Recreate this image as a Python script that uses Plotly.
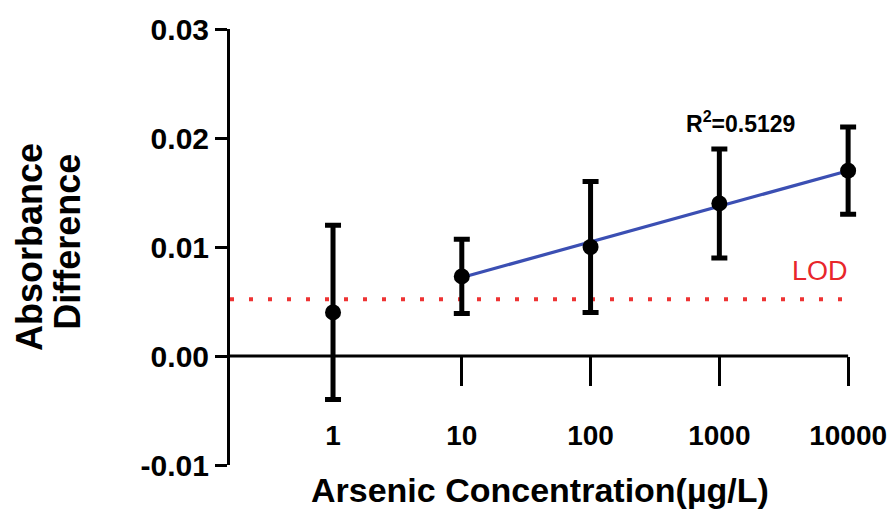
import math
import plotly.graph_objects as go

# ---- data ----
concentration = [1, 10, 100, 1000, 10000]
tick_labels = ["1", "10", "100", "1000", "10000"]
absorbance = [0.0040, 0.0073, 0.0100, 0.0140, 0.0170]
sd = [0.0080, 0.0034, 0.0060, 0.0050, 0.0040]
fit_x = [10, 10000]
fit_y = [0.0072, 0.0170]
lod_value = 0.0052
y_ticks = [-0.01, 0.0, 0.01, 0.02, 0.03]
y_tick_labels = ["-0.01", "0.00", "0.01", "0.02", "0.03"]
r2_text = "R<sup>2</sup>=0.5129"

FONT = "Liberation Sans, Arial, sans-serif"

# x range (log10 units); a little room past the last point so its error bar is not clipped
x_range = [-0.8, 4.1]
axis_end = (math.log10(max(concentration)) - x_range[0]) / (x_range[1] - x_range[0])

fig = go.Figure()

# regression line
fig.add_trace(go.Scatter(
    x=fit_x, y=fit_y, mode="lines",
    line=dict(color="#3b4fb3", width=3.2),
    showlegend=False, hoverinfo="skip",
))

# mean +/- SD
fig.add_trace(go.Scatter(
    x=concentration, y=absorbance, mode="markers",
    marker=dict(color="black", size=16),
    error_y=dict(type="data", array=sd, visible=True,
                 color="black", thickness=5, width=8),
    cliponaxis=False, showlegend=False,
))

# x-axis line drawn at y = 0 up to the last category
fig.add_shape(type="line", xref="x domain", x0=0, x1=axis_end,
              yref="y", y0=0, y1=0,
              line=dict(color="black", width=3), layer="above")

# LOD line
fig.add_shape(type="line", xref="x domain", x0=0, x1=axis_end,
              yref="y", y0=lod_value, y1=lod_value,
              line=dict(color="#ee3333", width=4, dash="4px,15px"),
              layer="below")

fig.add_annotation(text="LOD", xref="paper", yref="paper",
                   x=(820 - 230) / 631, y=0.445, xanchor="center", yanchor="middle",
                   showarrow=False,
                   font=dict(family=FONT, size=27, color="#e8262b"))

fig.add_annotation(text=r2_text, xref="paper", yref="paper",
                   x=(740 - 230) / 631, y=0.787, xanchor="center", yanchor="middle",
                   showarrow=False,
                   font=dict(family=FONT, size=23, color="black", weight="bold"))

# axis titles
fig.add_annotation(text="Absorbance", xref="paper", yref="paper",
                   x=(29 - 230) / 631, y=0.5, xanchor="center", yanchor="middle",
                   textangle=-90, showarrow=False,
                   font=dict(family=FONT, size=36, color="black", weight="bold"))
fig.add_annotation(text="Difference", xref="paper", yref="paper",
                   x=(68 - 230) / 631, y=0.512, xanchor="center", yanchor="middle",
                   textangle=-90, showarrow=False,
                   font=dict(family=FONT, size=36, color="black", weight="bold"))
fig.add_annotation(text="Arsenic Concentration(µg/L)", xref="paper", yref="paper",
                   x=(540 - 230) / 631, y=-0.057, xanchor="center", yanchor="middle",
                   showarrow=False,
                   font=dict(family=FONT, size=34, color="black", weight="bold"))

fig.update_layout(
    width=896, height=516,
    margin=dict(l=230, r=35, t=29, b=51, autoexpand=False),
    paper_bgcolor="white", plot_bgcolor="white",
    xaxis=dict(
        type="log", range=x_range,
        tickvals=concentration, ticktext=tick_labels,
        showgrid=False, zeroline=False,
        showline=False, automargin=False,
        ticks="outside", ticklen=29, tickwidth=3, tickcolor="black",
        anchor="free", position=0.25,
        ticklabelstandoff=25,
        tickfont=dict(family=FONT, size=28, color="black", weight="bold"),
    ),
    yaxis=dict(
        range=[-0.01, 0.03],
        tickvals=y_ticks, ticktext=y_tick_labels,
        showgrid=False, zeroline=False, automargin=False,
        showline=True, linecolor="black", linewidth=3,
        ticks="outside", ticklen=12, tickwidth=3, tickcolor="black",
        tickfont=dict(family=FONT, size=30, color="black", weight="bold"),
    ),
)

fig.write_html("out.html")
